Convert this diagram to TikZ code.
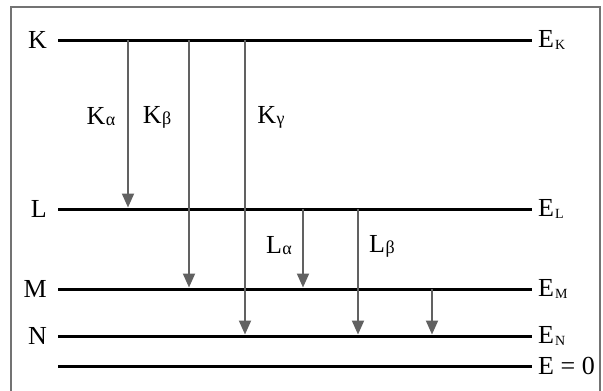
\documentclass[tikz,border=0pt]{standalone}
\usepackage{fontspec}
\setmainfont{Liberation Serif}
\usetikzlibrary{arrows.meta}
\tikzstyle{level} = [line width=3pt, black]
\tikzstyle{jump} = [line width=2pt, draw=black!62, -{Triangle[width=12pt,length=14pt]}]
\tikzstyle{shell} = [anchor=east, inner sep=0pt]
\tikzstyle{energy} = [anchor=west, inner sep=0pt]
\tikzstyle{lbl} = [inner sep=0pt]
\newcommand{\lsub}[1]{\kern1pt\raisebox{-2pt}{\fontsize{14}{14}\selectfont #1}}
\newcommand{\gsub}[1]{\kern0.5pt\raisebox{-1pt}{\fontsize{18}{18}\selectfont #1}}

\begin{document}
\begin{tikzpicture}[x=1pt, y=-1pt, font=\fontsize{26}{30}\selectfont]
    \useasboundingbox (0,0) rectangle (603,391);
    \draw[black!55, line width=2pt] (11,391) -- (11,7) -- (600,7) -- (600,391);
    % levels
    \foreach \n/\y in {K/40, L/209, M/289, N/336, Z/366}
        \draw[level] (58,\y) coordinate (\n-a) -- (532,\y) coordinate (\n-b);
    \node[shell] (k) at ([xshift=-11pt]K-a) {K};
    \node[shell] (l) at ([xshift=-11pt]L-a) {L};
    \node[shell] (m) at ([xshift=-11pt]M-a) {M};
    \node[shell] (n) at ([xshift=-11pt]N-a) {N};
    \node[energy] (ek) at ([xshift=6pt]K-b) {E\lsub{K}};
    \node[energy] (el) at ([xshift=6pt]L-b) {E\lsub{L}};
    \node[energy] (em) at ([xshift=6pt]M-b) {E\lsub{M}};
    \node[energy] (en) at ([xshift=6pt]N-b) {E\lsub{N}};
    \node[energy] (ez) at ([xshift=6pt]Z-b) {E = 0};
    % transitions
    \draw[jump] ([xshift=70pt]K-a) -- ([xshift=70pt, yshift=1.5pt]L-a);
    \draw[jump] ([xshift=131pt]K-a) -- ([xshift=131pt, yshift=1.5pt]M-a);
    \draw[jump] ([xshift=187pt]K-a) -- ([xshift=187pt, yshift=1.5pt]N-a);
    \draw[jump] ([xshift=245pt]L-a) -- ([xshift=245pt, yshift=1.5pt]M-a);
    \draw[jump] ([xshift=300pt]L-a) -- ([xshift=300pt, yshift=1.5pt]N-a);
    \draw[jump] ([xshift=374pt]M-a) -- ([xshift=374pt, yshift=1.5pt]N-a);
    \node[lbl] (ka) at (101,117) {K\gsub{α}};
    \node[lbl] (kb) at (157,117) {K\gsub{β}};
    \node[lbl] (kg) at (271,117) {K\gsub{γ}};
    \node[lbl] (la) at (279,246) {L\gsub{α}};
    \node[lbl] (lb) at (382,246) {L\gsub{β}};
\end{tikzpicture}
\end{document}
